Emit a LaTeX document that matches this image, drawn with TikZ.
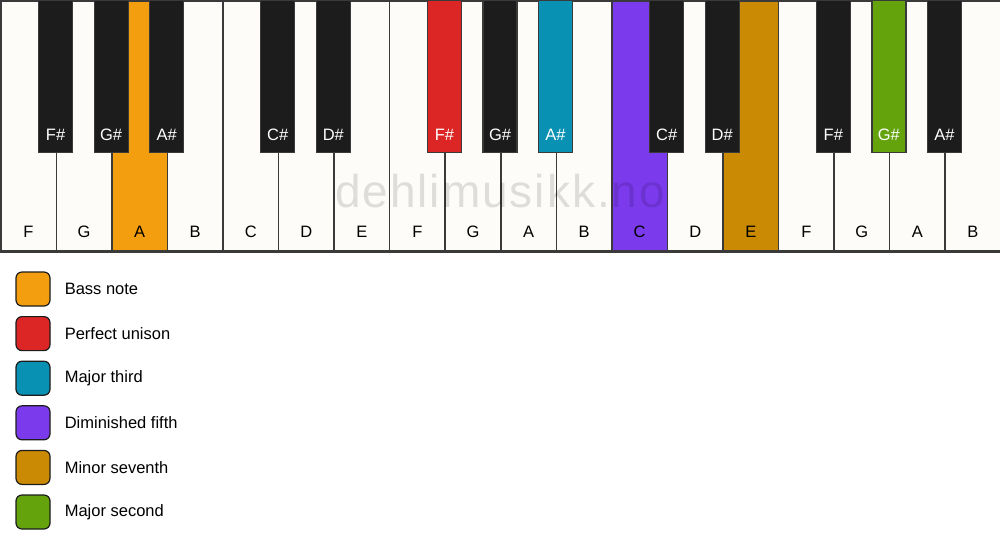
\documentclass[tikz,border=0pt]{standalone}
\usepackage{fontspec}
\setmainfont{Liberation Sans}
\newfontfamily\markfont[LetterSpace=4.3]{Liberation Sans}
\usetikzlibrary{positioning}

\definecolor{ivory}{HTML}{FDFCF9}
\definecolor{ebony}{HTML}{1C1C1C}
\definecolor{keyline}{HTML}{3A3A3A}
\definecolor{bass}{HTML}{F39E0E}
\definecolor{unison}{HTML}{DC2626}
\definecolor{third}{HTML}{0891B2}
\definecolor{fifth}{HTML}{7C3AED}
\definecolor{seventh}{HTML}{CA8A04}
\definecolor{second}{HTML}{65A30D}

\tikzstyle{whitekey}=[draw=keyline,line width=1.5pt,rectangle,anchor=north west,minimum width=55.556pt,minimum height=250pt,inner sep=0pt]
\tikzstyle{blackkey}=[draw=keyline,line width=1.2pt,rectangle,anchor=north,minimum width=34pt,minimum height=152pt,inner sep=0pt]
\tikzstyle{keytext}=[anchor=base,inner sep=0pt,font=\fontsize{16.5}{20}\selectfont]
\tikzstyle{legendbox}=[draw=ebony,line width=1.2pt,rounded corners=6pt,minimum size=34pt,inner sep=0pt]
\tikzstyle{legendtext}=[anchor=west,inner sep=0pt,font=\fontsize{16.5}{20}\selectfont]
\tikzstyle{watermark}=[anchor=base,inner sep=0pt,text=black,text opacity=0.12,font=\markfont\fontsize{46}{54}\selectfont]

\begin{document}
\begin{tikzpicture}[x=1pt,y=1pt]
    \fill[white] (0,0) rectangle (1000,-550);
    \useasboundingbox (0,0) rectangle (1000,-550);
    % First we draw the white keys
    \foreach \i/\note/\col in {0/F/ivory, 1/G/ivory, 2/A/bass, 3/B/ivory, 4/C/ivory, 5/D/ivory, 6/E/ivory, 7/F/ivory, 8/G/ivory, 9/A/ivory, 10/B/ivory, 11/C/fifth, 12/D/ivory, 13/E/seventh, 14/F/ivory, 15/G/ivory, 16/A/ivory, 17/B/ivory}
    {
        \node[whitekey,fill=\col] (w\i) at (\i*55.556,0) {};
        \node[keytext] (tw\i) at ([yshift=14pt]w\i.south) {\note};
    }
    \draw[keyline,line width=3pt] (w0.south west) -- (w17.south east);
    % Watermark over the white keys
    \node[watermark] (mark) at (500,-207) {dehlimusikk.no};
    % Then the black keys on the key boundaries
    \foreach \i/\note/\col in {1/F/ebony, 2/G/ebony, 3/A/ebony, 5/C/ebony, 6/D/ebony, 8/F/unison, 9/G/ebony, 10/A/third, 12/C/ebony, 13/D/ebony, 15/F/ebony, 16/G/second, 17/A/ebony}
    {
        \node[blackkey,fill=\col] (b\i) at (\i*55.556,0) {};
        \node[keytext,text=white] (tb\i) at ([yshift=13pt]b\i.south) {\note\#};
    }
    % Legend
    \foreach \i/\col/\txt in {0/bass/Bass note, 1/unison/Perfect unison, 2/third/Major third, 3/fifth/Diminished fifth, 4/seventh/Minor seventh, 5/second/Major second}
    {
        \node[legendbox,fill=\col] (l\i) at (33,-289-44.6*\i) {};
        \node[legendtext,right=14pt of l\i] (lt\i) {\txt};
    }
\end{tikzpicture}
\end{document}
